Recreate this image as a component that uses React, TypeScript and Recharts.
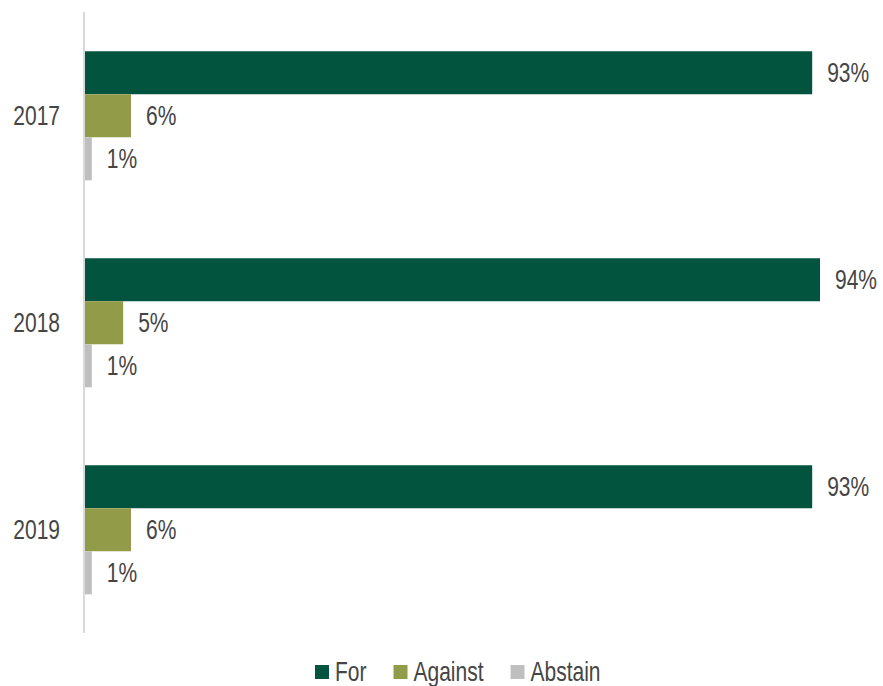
import React from "react";
import { BarChart, Bar, XAxis, YAxis, Legend, LabelList } from "recharts";

const years = ["2017", "2018", "2019"];
const forVals = [93, 94, 93];
const againstVals = [6, 5, 6];
const abstainVals = [1, 1, 1];

const seriesNames = ["For", "Against", "Abstain"];
const seriesColors = ["#03543F", "#929C48", "#BFBFBF"];

const data = years.map((y, i) => ({
  year: y,
  For: forVals[i],
  Against: againstVals[i],
  Abstain: abstainVals[i],
}));

const FONT = "'Liberation Sans', Arial, sans-serif";
const TEXT = "#454545";
const FS = 28;
const SX = 0.75;

const NarrowText = ({ x, y, anchor, children }: any) => (
  <text
    transform={`translate(${x},${y}) scale(${SX},1)`}
    x={0}
    y={0}
    textAnchor={anchor}
    dominantBaseline="central"
    fill={TEXT}
    fontSize={FS}
    fontFamily={FONT}
  >
    {children}
  </text>
);

const YTick = (props: any) => {
  const { x, y, payload } = props;
  return <NarrowText x={x - 16} y={y} anchor="end">{payload.value}</NarrowText>;
};

const ValueLabel = (props: any) => {
  const { x, y, width, height, value } = props;
  return <NarrowText x={x + width + 15} y={y + height / 2} anchor="start">{`${value}%`}</NarrowText>;
};

const approxWidth = (s: string) => {
  const w: Record<string, number> = { F: 0.611, o: 0.556, r: 0.333, A: 0.667, g: 0.556, a: 0.556, i: 0.222, n: 0.556, s: 0.5, t: 0.278, b: 0.556 };
  let t = 0;
  for (const c of s) t += w[c] ?? 0.556;
  return t * FS * SX;
};

const LegendContent = () => {
  const sq = 14;
  const gapIcon = 6;
  const gapItem = 27;
  const left = 315;
  let cx = left;
  const items = seriesNames.map((n, i) => {
    const x0 = cx;
    cx += sq + gapIcon + approxWidth(n) + gapItem;
    return (
      <g key={n}>
        <rect x={x0} y={15} width={sq} height={sq} fill={seriesColors[i]} />
        <NarrowText x={x0 + sq + gapIcon} y={21} anchor="start">{n}</NarrowText>
      </g>
    );
  });
  return (
    <svg width={883} height={40} style={{ display: "block" }}>
      {items}
    </svg>
  );
};

export default function App() {
  return (
    <div style={{ position: "absolute", left: 0, top: 0, width: 883, height: 686, background: "#fff" }}>
      <BarChart
        layout="vertical"
        width={883}
        height={686}
        data={data}
        margin={{ top: 12, right: 16, left: 0, bottom: 13 }}
        barCategoryGap="19%"
        barGap={0}
      >
        <XAxis type="number" domain={[0, 100]} hide />
        <YAxis
          type="category"
          dataKey="year"
          width={84}
          axisLine={{ stroke: "#d9d9d9", strokeWidth: 2 }}
          tickLine={false}
          tick={<YTick />}
        />
        <Legend
          content={<LegendContent />}
          height={40}
          wrapperStyle={{ position: "absolute", left: 0, top: 650, width: 883, height: 40 }}
        />
        {seriesNames.map((n, i) => (
          <Bar key={n} dataKey={n} fill={seriesColors[i]} isAnimationActive={false}>
            <LabelList dataKey={n} content={<ValueLabel />} />
          </Bar>
        ))}
      </BarChart>
    </div>
  );
}
